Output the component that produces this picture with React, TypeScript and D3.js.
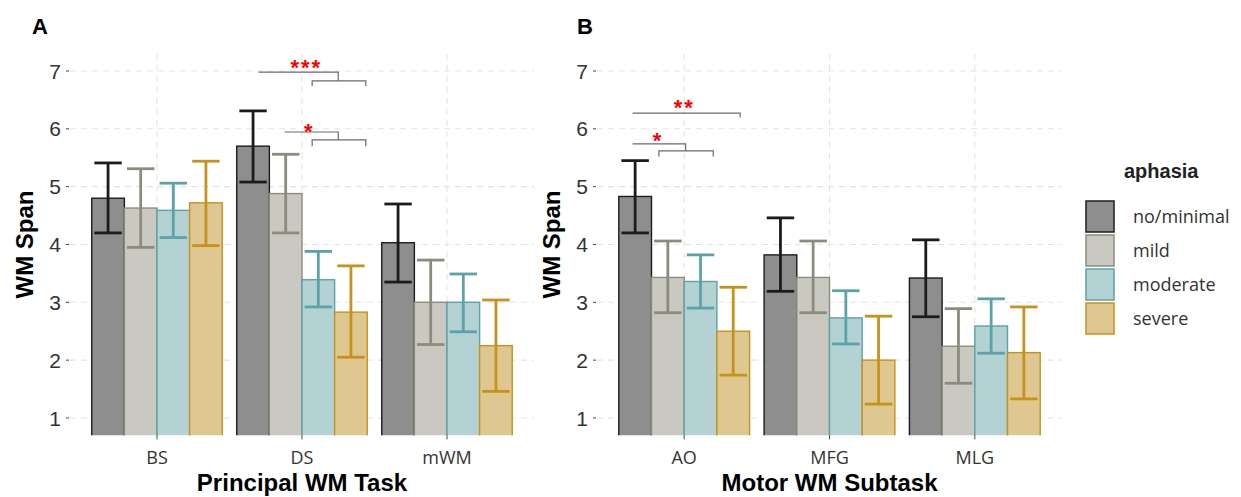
import React from "react";
import * as d3 from "d3";

// ---------- data ----------
const groups = ["no/minimal", "mild", "moderate", "severe"];
const tasksA = ["BS", "DS", "mWM"];
const tasksB = ["AO", "MFG", "MLG"];
const yTicks = [1, 2, 3, 4, 5, 6, 7];

// rows = aphasia group, columns = task
const meanA = [
  [4.8, 5.7, 4.03],
  [4.63, 4.88, 3.0],
  [4.59, 3.39, 3.0],
  [4.72, 2.83, 2.25],
];
const lowA = [
  [4.2, 5.08, 3.35],
  [3.95, 4.2, 2.27],
  [4.12, 2.92, 2.49],
  [3.98, 2.05, 1.46],
];
const highA = [
  [5.41, 6.31, 4.7],
  [5.31, 5.56, 3.73],
  [5.06, 3.88, 3.49],
  [5.44, 3.63, 3.04],
];

const meanB = [
  [4.83, 3.82, 3.42],
  [3.43, 3.43, 2.24],
  [3.36, 2.73, 2.59],
  [2.5, 2.0, 2.13],
];
const lowB = [
  [4.2, 3.19, 2.75],
  [2.82, 2.82, 1.6],
  [2.9, 2.28, 2.12],
  [1.74, 1.24, 1.33],
];
const highB = [
  [5.45, 4.46, 4.08],
  [4.06, 4.06, 2.89],
  [3.82, 3.2, 3.06],
  [3.26, 2.76, 2.92],
];

// significance annotations (x in category units, 1-based; y in data units)
const sigA = [
  { label: "***", x1: 1.7, x2: 2.25, y: 6.98, sx1: 2.07, sx2: 2.44, sy: 6.83, sdrop: 6.74, tx: 2.03, ty: 7.16 },
  { label: "*", x1: 1.88, x2: 2.25, y: 5.945, sx1: 2.07, sx2: 2.44, sy: 5.81, sdrop: 5.7, tx: 2.05, ty: 6.05 },
];
const sigB = [
  { label: "**", x1: 0.645, x2: 1.385, y: 6.27, sx1: null, sx2: null, sy: 6.2, sdrop: 6.2, tx: 1.0, ty: 6.46 },
  { label: "*", x1: 0.645, x2: 1.01, y: 5.74, sx1: 0.826, sx2: 1.2, sy: 5.62, sdrop: 5.52, tx: 0.82, ty: 5.89 },
];

// ---------- style ----------
const fills = ["#8e8e8e", "#c9c9c1", "#b4d2d4", "#dfc791"];
const strokes = ["#1c1c1c", "#8c8c7c", "#5aa3a8", "#c6931a"];
const SANS = "'Liberation Sans', Arial, sans-serif";
const HUMAN = "'Open Sans', 'Liberation Sans', sans-serif";

const W = 1241;
const H = 497;
const TOP = 53.65;
const BOTTOM = 435.3;
const STAR_FS = 22;

function Panel({ id, left, right, tasks, mean, low, high, sig, xTitle, letterX, yTitleX }) {
  const y = d3.scaleLinear().domain([0.7, 7.3]).range([BOTTOM, TOP]);
  const x = d3.scalePoint().domain(tasks).range([left, right]).padding(0.6);
  const step = x.step();
  const inner = d3
    .scaleBand()
    .domain(groups)
    .range([-0.45 * step, 0.45 * step])
    .padding(0);
  const bw = inner.bandwidth();
  const cx = (v) => x(tasks[0]) + (v - 1) * step;
  const clipId = "clip" + id;

  return (
    <g>
      <defs>
        <clipPath id={clipId}>
          <rect x={left} y={TOP} width={right - left} height={BOTTOM - TOP} />
        </clipPath>
      </defs>
      {/* grid */}
      {yTicks.map((t) => (
        <line key={"gy" + t} x1={left} x2={right} y1={y(t)} y2={y(t)} stroke="#e3e3e3" strokeWidth={1.1} strokeDasharray="6 5" />
      ))}
      {tasks.map((t) => (
        <line key={"gx" + t} x1={x(t)} x2={x(t)} y1={TOP} y2={BOTTOM} stroke="#e3e3e3" strokeWidth={1.1} strokeDasharray="6 5" />
      ))}
      {/* bars */}
      <g clipPath={`url(#${clipId})`}>
        {groups.map((g, gi) =>
          tasks.map((t, ti) => (
            <rect
              key={g + t}
              x={x(t) + inner(g)}
              y={y(mean[gi][ti])}
              width={bw}
              height={y(0) - y(mean[gi][ti])}
              fill={fills[gi]}
              stroke={strokes[gi]}
              strokeWidth={1.4}
            />
          ))
        )}
      </g>
      {/* error bars */}
      {groups.map((g, gi) =>
        tasks.map((t, ti) => {
          const c = x(t) + inner(g) + bw / 2;
          const hw = bw * 0.42;
          return (
            <g key={"e" + g + t} stroke={strokes[gi]} strokeWidth={2.8} fill="none">
              <line x1={c} x2={c} y1={y(low[gi][ti])} y2={y(high[gi][ti])} />
              <line x1={c - hw} x2={c + hw} y1={y(low[gi][ti])} y2={y(low[gi][ti])} />
              <line x1={c - hw} x2={c + hw} y1={y(high[gi][ti])} y2={y(high[gi][ti])} />
            </g>
          );
        })
      )}
      {/* significance */}
      {sig.map((s, i) => (
        <g key={"s" + i}>
          <path
            d={`M${cx(s.x1)},${y(s.y)}H${cx(s.x2)}V${y(s.sy)}`}
            fill="none"
            stroke="#6a6a6a"
            strokeWidth={1.2}
          />
          {s.sx1 !== null && (
            <path
              d={`M${cx(s.sx1)},${y(s.sdrop)}V${y(s.sy)}H${cx(s.sx2)}V${y(s.sdrop)}`}
              fill="none"
              stroke="#6a6a6a"
              strokeWidth={1.2}
            />
          )}
          <text
            x={cx(s.tx)}
            y={y(s.ty) + 0.6 * STAR_FS}
            textAnchor="middle"
            fill="#ff0000"
            fontFamily={SANS}
            fontWeight="bold"
            fontSize={STAR_FS}
            letterSpacing={2}
          >
            {s.label}
          </text>
        </g>
      ))}
      {/* y axis */}
      {yTicks.map((t) => (
        <g key={"yt" + t}>
          <line x1={left - 4} x2={left - 1} y1={y(t)} y2={y(t)} stroke="#444" strokeWidth={1} />
          <text x={left - 9} y={y(t)} dy="0.36em" textAnchor="end" fontFamily={SANS} fontSize={21} fill="#333">
            {t}
          </text>
        </g>
      ))}
      {/* x axis */}
      {tasks.map((t) => (
        <g key={"xt" + t}>
          <line x1={x(t)} x2={x(t)} y1={BOTTOM} y2={BOTTOM + 4} stroke="#444" strokeWidth={1} />
          <text x={x(t)} y={458} dy="0.36em" textAnchor="middle" fontFamily={HUMAN} fontSize={18} fill="#333">
            {t}
          </text>
        </g>
      ))}
      <text x={(left + right) / 2} y={491} textAnchor="middle" fontFamily={SANS} fontWeight="bold" fontSize={24} fill="#000">
        {xTitle}
      </text>
      <text
        transform={`translate(${yTitleX},${(TOP + BOTTOM) / 2}) rotate(-90)`}
        textAnchor="middle"
        fontFamily={SANS}
        fontWeight="bold"
        fontSize={24}
        fill="#000"
      >
        WM Span
      </text>
      <text x={letterX} y={34} fontFamily={SANS} fontWeight="bold" fontSize={22} fill="#000">
        {id}
      </text>
    </g>
  );
}

function Legend() {
  const x0 = 1086;
  const y0 = 201;
  const stepY = 34;
  return (
    <g>
      <text x={1124} y={178} fontFamily={SANS} fontWeight="bold" fontSize={20} fill="#222">
        aphasia
      </text>
      {groups.map((g, i) => (
        <g key={g}>
          <rect x={x0} y={y0 + i * stepY} width={28} height={31} fill={fills[i]} stroke={strokes[i]} strokeWidth={1.5} />
          <text x={1133} y={y0 + i * stepY + 15.5} dy="0.36em" fontFamily={HUMAN} fontSize={18} fill="#333">
            {g}
          </text>
        </g>
      ))}
    </g>
  );
}

export default function App() {
  return (
    <svg width={W} height={H} style={{ position: "absolute", left: 0, top: 0, background: "#fff" }}>
      <rect x={0} y={0} width={W} height={H} fill="#fff" />
      <Panel
        id="A"
        left={70}
        right={534}
        tasks={tasksA}
        mean={meanA}
        low={lowA}
        high={highA}
        sig={sigA}
        xTitle="Principal WM Task"
        letterX={32}
        yTitleX={33}
      />
      <Panel
        id="B"
        left={597}
        right={1062}
        tasks={tasksB}
        mean={meanB}
        low={lowB}
        high={highB}
        sig={sigB}
        xTitle="Motor WM Subtask"
        letterX={577}
        yTitleX={560}
      />
      <Legend />
    </svg>
  );
}
